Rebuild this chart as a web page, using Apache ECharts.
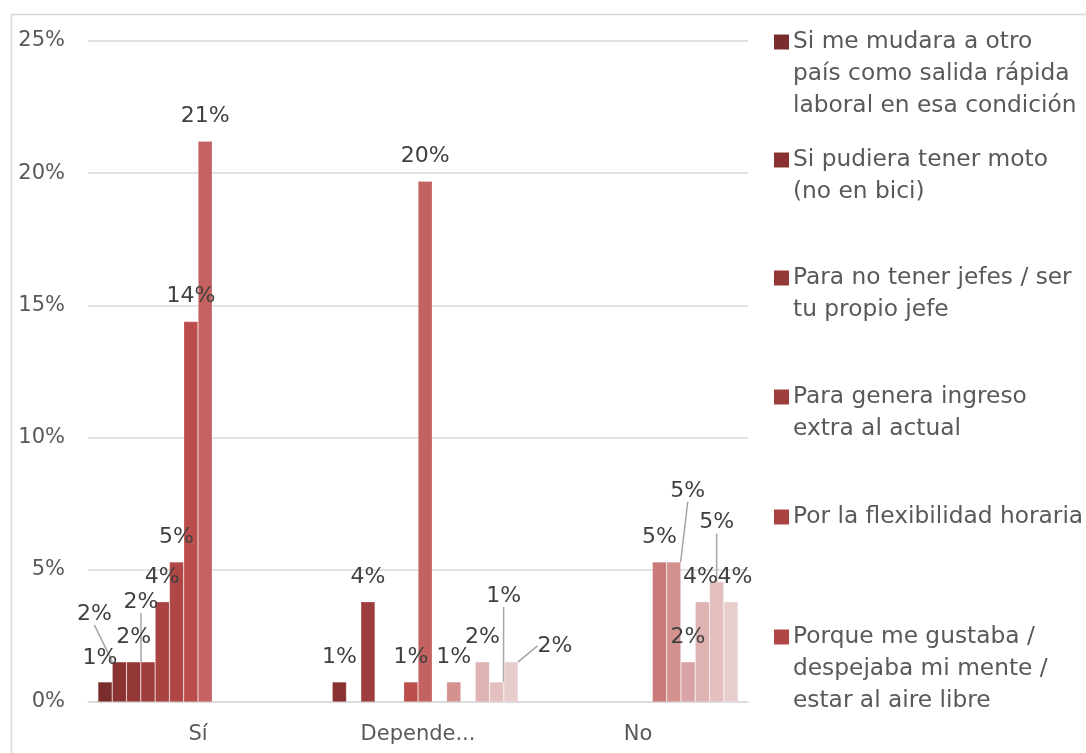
<!DOCTYPE html>
<html>
<head>
<meta charset="utf-8">
<script src="https://cdn.jsdelivr.net/npm/echarts@6/dist/echarts.min.js"></script>
<style>
  html, body { margin: 0; padding: 0; background: #ffffff; }
  #chart { width: 1086px; height: 753px; }
</style>
</head>
<body>
<div id="chart"></div>
<script>
// Categories on the x axis
const categories = ['Sí', 'Depende...', 'No'];

// Y axis ticks (percent)
const yTicks = [0, 5, 10, 15, 20, 25];

// Motives (series names); line breaks follow the legend wrapping
const seriesNames = [
  'Si me mudara a otro\npaís como salida rápida\nlaboral en esa condición',
  'Si pudiera tener moto\n(no en bici)',
  'Para no tener jefes / ser\ntu propio jefe',
  'Para genera ingreso\nextra al actual',
  'Por la flexibilidad horaria',
  'Porque me gustaba /\ndespejaba mi mente /\nestar al aire libre',
  'Motivo 7',
  'Motivo 8',
  'Motivo 9',
  'Motivo 10',
  'Motivo 11',
  'Motivo 12',
  'Motivo 13',
  'Motivo 14'
];

// Share of answers per motive, in percent (Sí, Depende..., No)
const s0  = [0.76, null, null];
const s1  = [1.52, 0.76, null];
const s2  = [1.52, null, null];
const s3  = [1.52, 3.79, null];
const s4  = [3.79, null, null];
const s5  = [5.30, null, null];
const s6  = [14.39, 0.76, null];
const s7  = [21.21, 19.70, null];
const s8  = [null, null, 5.30];
const s9  = [null, 0.76, 5.30];
const s10 = [null, null, 1.52];
const s11 = [null, 1.52, 3.79];
const s12 = [null, 0.76, 4.55];
const s13 = [null, 1.52, 3.79];
const seriesValues = [s0, s1, s2, s3, s4, s5, s6, s7, s8, s9, s10, s11, s12, s13];

// Red shades, dark to light
const palette = [
  '#7B2D2D', '#8A3231', '#943837', '#9E3E3C', '#A84341', '#B04744', '#BB4E4B',
  '#C46161', '#C97A79', '#D39190', '#D8A3A2', '#DEB3B2', '#E3C0BF', '#E8CDCD'
];

// Manual label nudges: "series:category" -> [dx, dy, guide line]
const labelNudge = {
  '0:0': [-5, 1, false],
  '1:0': [-25, -23, true],
  '3:0': [-7, -35, true],
  '12:1': [7, -61, true],
  '13:1': [44, 9, true],
  '9:2': [14, -46, true],
  '11:2': [-2, 0, false],
  '12:2': [0, -34, true],
  '13:2': [4, 0, false]
};

const FONT = '"DejaVu Sans", Verdana, sans-serif';
const LEGEND_SIZE = 23.3;

const series = seriesValues.map(function (vals, si) {
  return {
    type: 'bar',
    name: seriesNames[si],
    barGap: '0%',
    barCategoryGap: '9%',
    itemStyle: { color: palette[si], borderColor: 'rgba(255,255,255,0.35)', borderWidth: 0.6 },
    label: {
      show: true,
      position: 'top',
      distance: 14,
      color: '#404040',
      fontFamily: FONT,
      fontSize: 22,
      formatter: function (p) { return Math.round(p.value) + '%'; }
    },
    labelLine: { show: false, lineStyle: { color: '#A6A6A6', width: 1.5 } },
    labelLayout: function (p) {
      const n = labelNudge[si + ':' + p.dataIndex];
      return n ? { dx: n[0], dy: n[1] } : {};
    },
    emphasis: { disabled: true },
    data: vals.map(function (v, ci) {
      const n = labelNudge[si + ':' + ci];
      return { value: v, labelLine: { show: !!(n && n[2]) } };
    })
  };
});

// One legend block per visible motive, square aligned with the first line
const legendTops = [26, 144, 262, 381, 501, 621];
const legends = legendTops.map(function (top, i) {
  return {
    data: [seriesNames[i]],
    left: 768,
    top: top,
    orient: 'vertical',
    padding: 0,
    itemWidth: 0,
    itemHeight: 0,
    selectedMode: false,
    formatter: function (name) {
      return name.split('\n').map(function (line, k) {
        return (k === 0 ? '{sq| }{gap| }' : '{ind| }') + '{t|' + line + '}';
      }).join('\n');
    },
    textStyle: {
      fontFamily: FONT,
      fontSize: LEGEND_SIZE,
      color: '#595959',
      lineHeight: 32,
      rich: {
        sq: { width: 15, height: 15, backgroundColor: palette[i], verticalAlign: 'middle', lineHeight: 32 },
        gap: { width: 4, lineHeight: 32 },
        ind: { width: 19, lineHeight: 32 },
        t: { fontFamily: FONT, fontSize: LEGEND_SIZE, color: '#595959', lineHeight: 32 }
      }
    }
  };
});

const chart = echarts.init(document.getElementById('chart'), null, { renderer: 'canvas' });
chart.setOption({
  backgroundColor: '#ffffff',
  animation: false,
  graphic: [{
    type: 'rect',
    left: 9, top: 12,
    shape: { width: 1100, height: 800 },
    style: { fill: 'none', stroke: '#D9D9D9', lineWidth: 1.5 },
    silent: true
  }],
  grid: { left: 88, top: 41, width: 660, bottom: 51 },
  legend: legends,
  xAxis: {
    type: 'category',
    data: categories,
    axisLine: { lineStyle: { color: '#D9D9D9', width: 1.5 } },
    axisTick: { show: false },
    axisLabel: { color: '#595959', fontFamily: FONT, fontSize: 21, margin: 22 }
  },
  yAxis: {
    type: 'value',
    min: yTicks[0],
    max: yTicks[yTicks.length - 1],
    interval: yTicks[1] - yTicks[0],
    axisLine: { show: false },
    axisTick: { show: false },
    splitLine: { lineStyle: { color: '#D9D9D9', width: 1.5 } },
    axisLabel: { color: '#595959', fontFamily: FONT, fontSize: 21, margin: 23, formatter: '{value}%' }
  },
  series: series
});
</script>
</body>
</html>
